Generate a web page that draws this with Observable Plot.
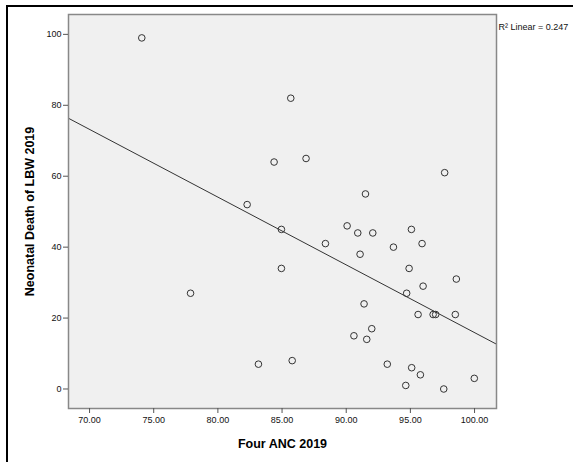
<!DOCTYPE html>
<html>
<head>
<meta charset="utf-8">
<script src="https://cdn.jsdelivr.net/npm/d3@7"></script>
<script src="https://cdn.jsdelivr.net/npm/@observablehq/plot@0.6"></script>
<style>
  html, body { margin: 0; padding: 0; background: #fff; overflow: hidden; }
  #wrap { position: relative; width: 573px; height: 462px; }
  #border { position: absolute; left: 6px; top: 5px; width: 600px; height: 500px;
            border-top: 2px solid #000; border-left: 2px solid #000; pointer-events: none; }
  svg { font-family: "Liberation Sans", Arial, sans-serif; }
  g[aria-label="x-axis label"] text, g[aria-label="y-axis label"] text {
    font-weight: bold; font-size: 12.5px; fill: #000;
  }
</style>
</head>
<body>
<div id="wrap"><div id="border"></div></div>
<script>
const fourANC = [
  74.07, 85.68, 84.38, 86.87, 82.28, 84.95, 88.38, 84.95, 77.87, 83.16, 85.79,
  97.67, 91.50, 90.07, 90.90, 92.07, 95.08, 91.08, 93.68, 95.91, 94.90, 98.58, 95.99, 94.71,
  91.39, 95.60, 96.77, 96.97, 98.50, 91.99, 90.60, 91.60, 93.20, 95.10, 95.78, 99.98, 94.64, 97.60
];
const neonatalDeathLBW = [
  99, 82, 64, 65, 52, 45, 41, 34, 27, 7, 8,
  61, 55, 46, 44, 44, 45, 38, 40, 41, 34, 31, 29, 27,
  24, 21, 21, 21, 21, 17, 15, 14, 7, 6, 4, 3, 1, 0
];
const xTicks = [70, 75, 80, 85, 90, 95, 100];
const yTicks = [0, 20, 40, 60, 80, 100];
const xDomain = [68.36, 101.71];
const yDomain = [-5.5, 105.6];
const xLabel = "Four ANC 2019";
const yLabel = "Neonatal Death of LBW 2019";
const fitLabel = "R² Linear = 0.247";

const data = fourANC.map((x, i) => ({x, y: neonatalDeathLBW[i]}));

// least-squares fit, drawn across the full x domain (as SPSS does)
const mx = d3.mean(fourANC), my = d3.mean(neonatalDeathLBW);
const sxy = d3.sum(data, d => (d.x - mx) * (d.y - my));
const sxx = d3.sum(data, d => (d.x - mx) ** 2);
const slope = sxy / sxx, intercept = my - slope * mx;
const fit = xDomain.map(x => ({x, y: intercept + slope * x}));

const chart = Plot.plot({
  width: 573,
  height: 462,
  marginLeft: 68,
  marginRight: 77,
  marginTop: 14,
  marginBottom: 54,
  style: {fontFamily: "'Liberation Sans', Arial, sans-serif", fontSize: "9px", background: "transparent", overflow: "visible"},
  x: {domain: xDomain, ticks: xTicks, tickFormat: d3.format(".2f")},
  y: {domain: yDomain, ticks: yTicks},
  marks: [
    Plot.frame({fill: "#f0f0f0", stroke: "none"}),
    Plot.line(fit, {x: "x", y: "y", stroke: "#333", strokeWidth: 1}),
    Plot.dot(data, {x: "x", y: "y", r: 3.3, stroke: "#333", strokeWidth: 1, fill: "none"}),
    Plot.frame({stroke: "#888", strokeWidth: 1.5}),
    Plot.axisX({ticks: xTicks, tickFormat: d3.format(".2f"), tickSize: 5, tickPadding: 3, stroke: "#555", color: "#111",
      label: xLabel, labelAnchor: "center", labelArrow: "none", labelOffset: 39}),
    Plot.axisY({ticks: yTicks, tickSize: 5, tickPadding: 2, stroke: "#555", color: "#111",
      label: yLabel, labelAnchor: "center", labelArrow: "none", labelOffset: 43}),
    Plot.text([fitLabel], {frameAnchor: "top-right", text: d => d, textAnchor: "start", dx: 2, dy: 9, fontSize: 9, fill: "#111"})
  ]
});
document.getElementById("wrap").prepend(chart);
</script>
</body>
</html>
